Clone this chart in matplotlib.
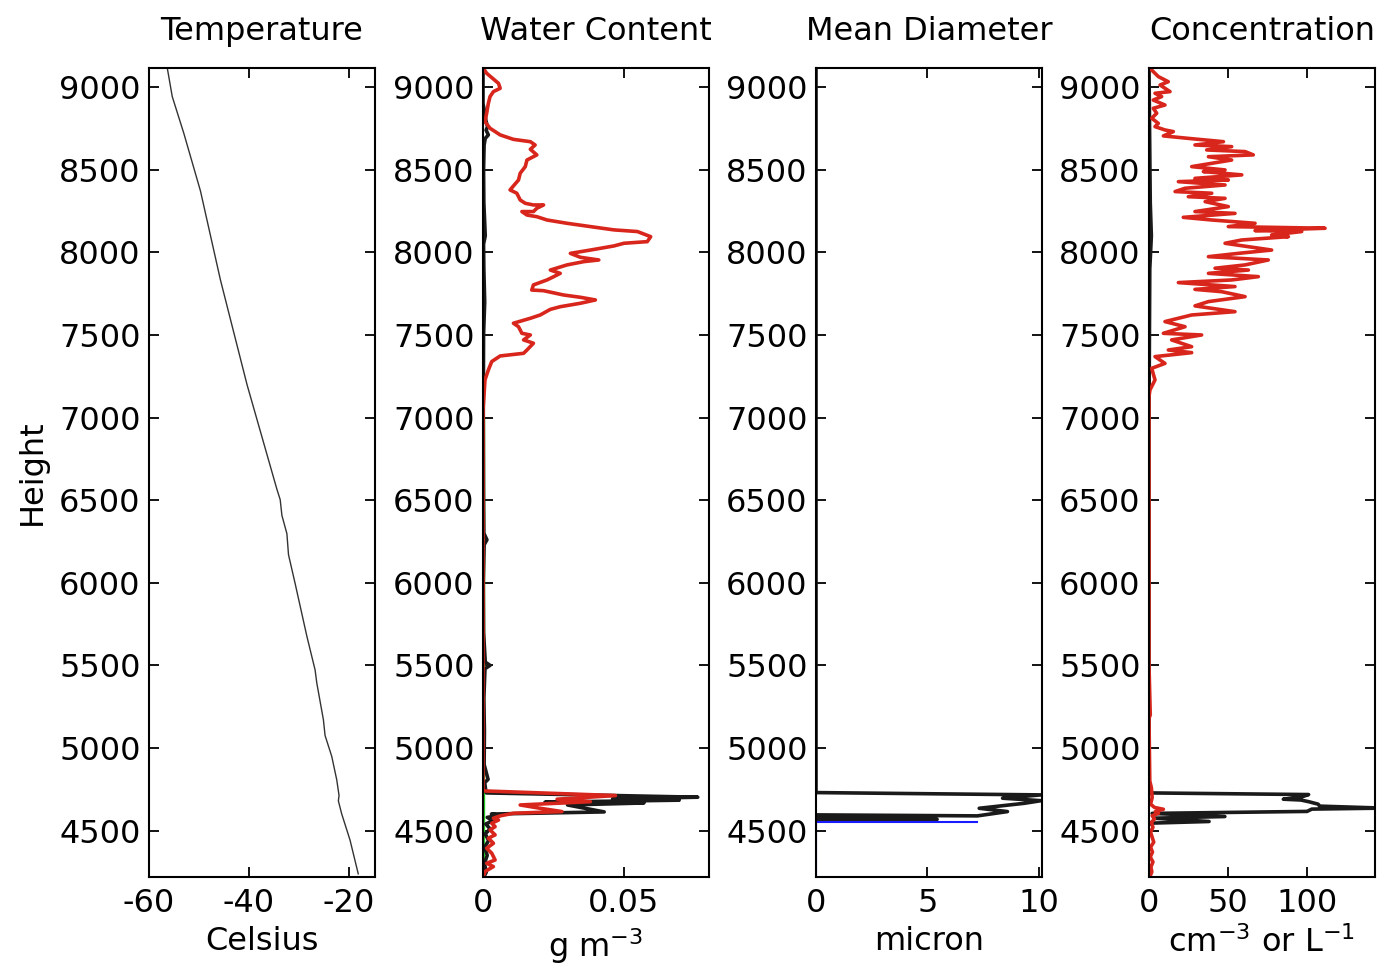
import matplotlib
matplotlib.use("Agg")
import matplotlib.pyplot as plt
import numpy as np

plt.rcParams['font.family'] = ['DejaVu Sans']
plt.rcParams['mathtext.fontset'] = 'dejavusans'
plt.rcParams['axes.unicode_minus'] = False

# ---- Temperature profile (Celsius vs height) ----
temp_c = [-56.35, -55.35, -53.04, -49.71, -45.72, -40.40, -34.42, -33.76, -33.42,
          -32.42, -32.10, -30.77, -28.44, -26.78, -26.44, -25.12, -24.79, -23.45,
          -22.45, -21.99, -22.13, -21.46, -19.80, -18.15]
temp_h = [9117, 8943, 8721, 8372, 7834, 7200, 6566, 6503, 6408,
          6297, 6170, 5995, 5678, 5472, 5393, 5171, 5076, 4949,
          4807, 4712, 4680, 4601, 4443, 4238]

# ---- Water content (g m^-3) ----
lwc_red_upper = [0.0001, 0.0013, 0.0055, 0.0061, 0.0037, 0.0025, 0.0019, 0.0013, 0.0007, 0.0025,
                 0.0061, 0.0108, 0.0168, 0.0185, 0.0168, 0.0191, 0.0156, 0.0150, 0.0132, 0.0126,
                 0.0108, 0.0096, 0.0120, 0.0132, 0.0150, 0.0179, 0.0215, 0.0191, 0.0179, 0.0138,
                 0.0156, 0.0191, 0.0227, 0.0298, 0.0381, 0.0465, 0.0548, 0.0595, 0.0583, 0.0500,
                 0.0465, 0.0381, 0.0310, 0.0346, 0.0411, 0.0358, 0.0298, 0.0239, 0.0274, 0.0251,
                 0.0227, 0.0179, 0.0173, 0.0215, 0.0286, 0.0346, 0.0399, 0.0346, 0.0274, 0.0239,
                 0.0203, 0.0168, 0.0108, 0.0126, 0.0138, 0.0168, 0.0144, 0.0179, 0.0156, 0.0144,
                 0.0061, 0.0031, 0.0019, 0.0007, 0.0004, 0.0, 0.0]
lwc_red_upper_h = [9114, 9084, 9023, 8993, 8973, 8943, 8902, 8842, 8791, 8751,
                   8711, 8684, 8670, 8650, 8624, 8590, 8559, 8519, 8479, 8438,
                   8402, 8378, 8358, 8317, 8297, 8287, 8287, 8267, 8247, 8247,
                   8226, 8216, 8196, 8176, 8156, 8136, 8126, 8095, 8065, 8055,
                   8039, 8014, 7994, 7970, 7954, 7944, 7924, 7893, 7873, 7853,
                   7833, 7803, 7772, 7768, 7742, 7728, 7712, 7692, 7671, 7655,
                   7621, 7601, 7571, 7550, 7510, 7500, 7470, 7450, 7409, 7389,
                   7373, 7339, 7288, 7228, 7147, 7046, 4746]
lwc_red_lower = [0.0, 0.0004, 0.047, 0.0263, 0.0381, 0.0132, 0.0203, 0.0280, 0.0108, 0.0061,
                 0.0037, 0.0055, 0.0031, 0.0043, 0.0025, 0.0043, 0.0019, 0.0037, 0.0013, 0.0031,
                 0.0043, 0.0013, 0.0037, 0.0007, 0.0001]
lwc_red_lower_h = [4746, 4740, 4712, 4690, 4675, 4655, 4635, 4615, 4605, 4589,
                   4575, 4564, 4544, 4524, 4504, 4474, 4454, 4423, 4393, 4363,
                   4322, 4302, 4282, 4252, 4221]
lwc_black = [0, 0, 0.0006, 0.0010, 0.0016, 0.0011, 0.0019, 0.0008, 0.0004, 0.0002,
             0.0003, 0.0008, 0.0002, 0.0003, 0.0006, 0.0002, 0.0001, 0.0002, 0.0003, 0.0014,
             0.0004, 0.0001, 0.0002, 0.0008, 0.0025, 0.0007, 0.0003, 0.0005, 0.0004, 0.0018,
             0.0006, 0.0010, 0.0012, 0.0762, 0.0460, 0.0696, 0.0220, 0.0571, 0.0300, 0.0430,
             0.0030, 0.0060, 0.0015, 0.0035, 0.0010, 0.0025, 0.0008, 0.0020, 0.0006, 0.0015,
             0.0005, 0.0012, 0.0003]
lwc_black_h = [9120, 8900, 8850, 8800, 8760, 8740, 8711, 8690, 8650, 8500,
               8300, 8100, 8050, 7900, 7700, 7500, 7000, 6500, 6300, 6260,
               6230, 6000, 5700, 5520, 5500, 5480, 5300, 5100, 4900, 4810,
               4790, 4740, 4728, 4702, 4692, 4684, 4672, 4667, 4655, 4613,
               4600, 4592, 4580, 4560, 4540, 4510, 4480, 4440, 4400, 4350,
               4300, 4250, 4220]
lwc_green = [0.0002, 0.0002]
lwc_green_h = [7000, 4220]

# ---- Mean diameter (micron) ----
diam_black = [0, 0, 10.11, 8.38, 10.11, 9.35, 7.33, 8.60, 7.25, 0.03, 0, 5.44, 0]
diam_black_h = [9120, 4730, 4716, 4696, 4681, 4665, 4635, 4615, 4589, 4595, 4580, 4568, 4562]
diam_blue = [7.25, 0, 0]
diam_blue_h = [4554, 4554, 4220]

# ---- Concentration (cm^-3 or L^-1) ----
conc_red = [0.6, 5.9, 12.2, 7.0, 13.3, 3.8, 8.0, 2.7, 10.1, 2.7,
            4.9, 1.7, 5.9, 3.8, 10.1, 15.4, 9.1, 24.9, 47.1, 29.1,
            52.3, 36.5, 60.8, 66.0, 37.6, 52.3, 27.0, 48.1, 34.4, 58.7,
            29.1, 50.2, 18.6, 48.1, 22.8, 16.5, 39.7, 24.9, 48.1, 35.5,
            50.2, 29.1, 54.4, 21.7, 39.7, 67.1, 50.2, 111.4, 67.1, 96.6,
            77.6, 88.2, 58.7, 48.1, 77.6, 56.5, 37.6, 75.5, 60.8, 41.8,
            62.9, 37.6, 69.2, 52.3, 18.6, 54.4, 29.1, 46.0, 60.8, 37.6,
            29.1, 54.4, 27.0, 10.1, 22.8, 9.1, 33.3, 14.3, 27.0, 12.2,
            27.0, 3.8, 10.1, 1.7, 3.8, 0.6, 0,
            0, 0, 0, 0, 0.8, 0, 0.5, 1.5, 2.0, 1.0, 3.5, 9.1, 4.0, 6.0,
            2.0, 3.5, 1.5, 2.5, 1.0, 2.0, 3.0, 1.0, 2.2, 0.8, 2.5, 1.2, 1.8, 0.5]
conc_red_h = [9114, 9064, 9033, 9013, 8973, 8963, 8943, 8922, 8892, 8872,
              8842, 8812, 8781, 8761, 8741, 8731, 8705, 8690, 8670, 8650,
              8640, 8620, 8610, 8590, 8579, 8559, 8519, 8499, 8489, 8469,
              8448, 8438, 8428, 8408, 8388, 8368, 8358, 8337, 8327, 8307,
              8277, 8247, 8236, 8212, 8196, 8176, 8156, 8146, 8132, 8126,
              8105, 8095, 8075, 8055, 8014, 7994, 7974, 7954, 7924, 7904,
              7893, 7873, 7853, 7833, 7817, 7793, 7776, 7762, 7732, 7702,
              7676, 7641, 7621, 7581, 7550, 7510, 7500, 7470, 7429, 7409,
              7393, 7369, 7328, 7298, 7228, 7167, 7127,
              7100, 6500, 6000, 5500, 5200, 5180, 4800, 4760, 4700, 4660, 4640, 4629, 4615, 4605,
              4590, 4570, 4550, 4520, 4490, 4460, 4430, 4400, 4370, 4340, 4310, 4280, 4250, 4220]
conc_black = [0, 0.8, 1.5, 0.5, 0, 0, 101, 97, 85, 96, 101, 107, 108, 148,
              103, 100, 2, 48, 3, 38, 1, 0]
conc_black_h = [9120, 8300, 8100, 7900, 7000, 4728, 4718, 4705, 4690, 4685, 4675, 4660, 4648, 4636,
                4630, 4616, 4604, 4585, 4575, 4555, 4545, 4535]

height_ticks = [4500, 5000, 5500, 6000, 6500, 7000, 7500, 8000, 8500, 9000]
red = '#d8261c'
blk = '#1a1a1a'
fs = 23

fig = plt.figure(figsize=(13.98, 9.71), dpi=100)
lefts = [149, 483, 816, 1149]
axes = [fig.add_axes([l / 1398, 1 - 877 / 971, 226 / 1398, 809 / 971]) for l in lefts]

ax1, ax2, ax3, ax4 = axes
ax1.plot(temp_c, temp_h, color='#333333', lw=1.0)
ax1.set_xlim(-60, -14.8)
ax1.set_xticks([-60, -40, -20])
ax1.set_title('Temperature', fontsize=fs, pad=20)
ax1.set_xlabel('Celsius', fontsize=fs, labelpad=5)
ax1.set_ylabel('Height', fontsize=fs, labelpad=8)

ax2.plot(lwc_green, lwc_green_h, color='#22cc22', lw=1.0)
ax2.plot(lwc_black, lwc_black_h, color=blk, lw=2.6)
ax2.plot(lwc_red_upper, lwc_red_upper_h, color=red, lw=2.6)
ax2.plot(lwc_red_lower, lwc_red_lower_h, color=red, lw=2.6)
ax2.set_xlim(0, 0.0802)
ax2.set_xticks([0, 0.05])
ax2.set_xticklabels(['0', '0.05'])
ax2.set_title('Water Content', fontsize=fs, pad=20)
ax2.set_xlabel(r'g m$^{-3}$', fontsize=fs, labelpad=5)

ax3.plot(diam_black, diam_black_h, color=blk, lw=2.6)
ax3.plot(diam_blue, diam_blue_h, color='#1a1aff', lw=1.5)
ax3.set_xlim(0, 10.15)
ax3.set_xticks([0, 5, 10])
ax3.set_title('Mean Diameter', fontsize=fs, pad=20)
ax3.set_xlabel('micron', fontsize=fs, labelpad=5)

ax4.plot(conc_black, conc_black_h, color=blk, lw=2.6)
ax4.plot(conc_red, conc_red_h, color=red, lw=2.6)
ax4.set_xlim(0, 143)
ax4.set_xticks([0, 50, 100])
ax4.set_title('Concentration', fontsize=fs, pad=20)
ax4.set_xlabel(r'cm$^{-3}$ or L$^{-1}$', fontsize=fs, labelpad=5)

for ax in axes:
    ax.set_ylim(4219, 9116)
    ax.set_yticks(height_ticks)
    ax.tick_params(direction='in', top=True, right=True, length=7, width=1.3,
                   labelsize=fs)
    ax.tick_params(axis='x', pad=8)
    ax.tick_params(axis='y', pad=6)
    for s in ax.spines.values():
        s.set_linewidth(1.5)

fig.savefig('out.png', dpi=100)
